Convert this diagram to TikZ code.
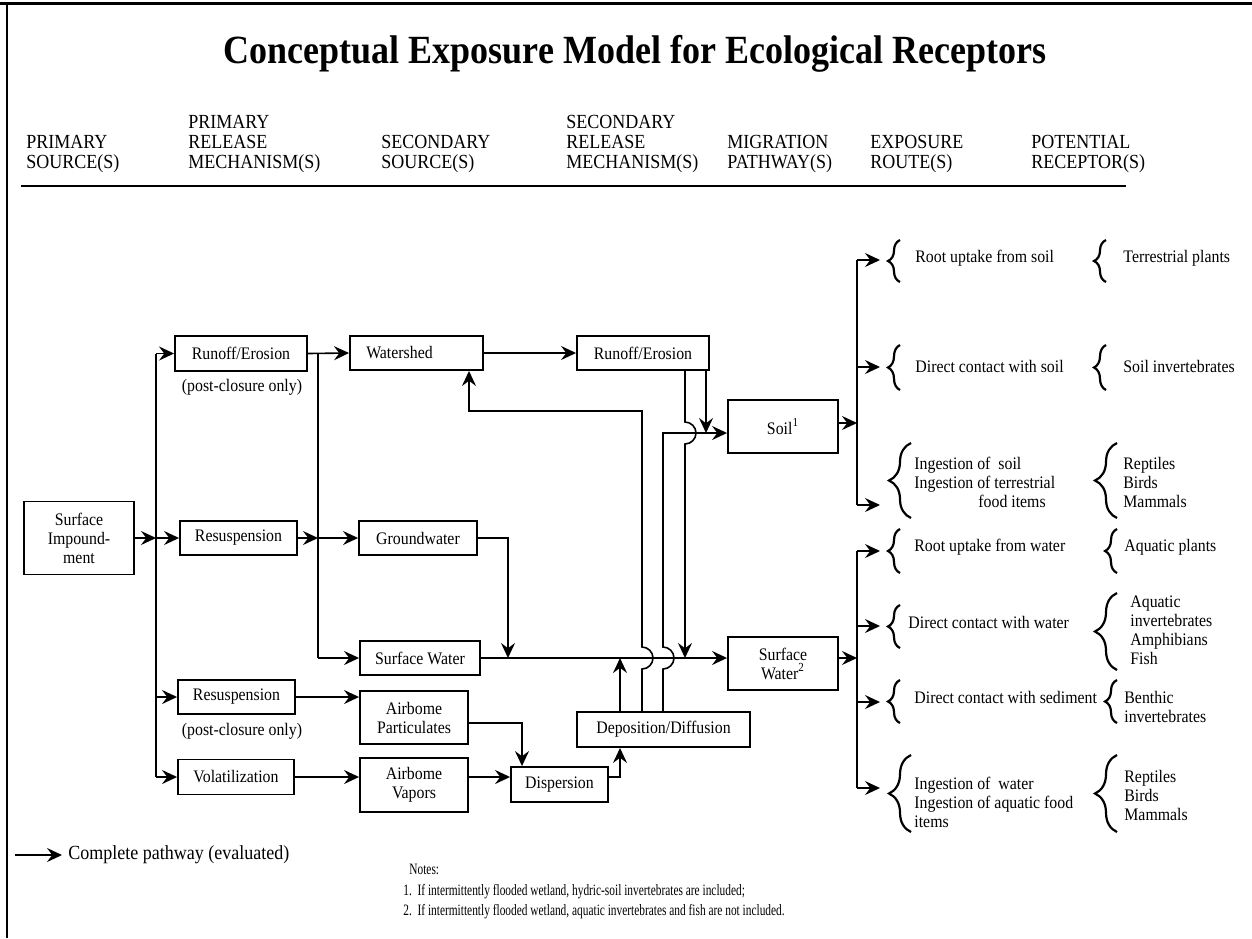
\documentclass[tikz,border=0pt]{standalone}
\usepackage{fontspec}
\setmainfont{Liberation Serif}[FakeStretch=0.9]
\newfontfamily\cemnotesfamily{Liberation Serif}[FakeStretch=0.72]
\usetikzlibrary{arrows.meta,decorations.pathreplacing}

\newcommand\cemtxt{\fontsize{8.8}{9.5}\selectfont}
\newcommand\cemhdr{\fontsize{10}{10}\selectfont}
\newcommand\cemttl{\fontsize{20}{24}\selectfont\bfseries}
\newcommand\cemleg{\fontsize{10}{12}\selectfont}
\newcommand\cemnote{\cemnotesfamily\fontsize{7.9}{10.2}\selectfont}

\begin{document}
\begin{tikzpicture}[x=0.5pt,y=-0.5pt,
  box/.style={draw, line width=0.95pt, inner sep=0pt, align=center, font=\cemtxt},
  conn/.style={line width=0.8pt},
  arr/.style={conn, -{Stealth[length=7.5pt,width=7pt,inset=2.6pt]}},
  hdr/.style={anchor=west, align=left, inner sep=0pt, font=\cemhdr},
  lbl/.style={anchor=west, align=left, inner sep=0pt, font=\cemtxt},
  bsmall/.style={decorate, decoration={brace, amplitude=6pt}, line width=1.1pt},
  blarge/.style={decorate, decoration={brace, amplitude=11pt}, line width=1.1pt}]

\useasboundingbox (0,0) rectangle (1252,938);

% frame and header rule
\draw[line width=1.3pt] (0,3.5) -- (1252,3.5);
\draw[line width=0.7pt] (7,3.5) -- (7,938);
\draw[line width=1pt] (21,186) -- (1126,186);

% title and column headings
\node[font=\cemttl, inner sep=0pt] (title) at (635,54) {Conceptual Exposure Model for Ecological Receptors};
\node[hdr] (h1) at (26,154) {PRIMARY\\SOURCE(S)};
\node[hdr] (h2) at (188,144) {PRIMARY\\RELEASE\\MECHANISM(S)};
\node[hdr] (h3) at (381,154) {SECONDARY\\SOURCE(S)};
\node[hdr] (h4) at (566,144) {SECONDARY\\RELEASE\\MECHANISM(S)};
\node[hdr] (h5) at (727,154) {MIGRATION\\PATHWAY(S)};
\node[hdr] (h6) at (870,154) {EXPOSURE\\ROUTE(S)};
\node[hdr] (h7) at (1031,154) {POTENTIAL\\RECEPTOR(S)};

% sources and release mechanisms
\node[box, minimum width=55pt, minimum height=36.5pt] (imp) at (79,538) {Surface\\Impound-\\ment};
\node[box, minimum width=66pt, minimum height=17.5pt] (ro1) at (241,353.5) {Runoff/Erosion};
\node[box, minimum width=58.5pt, minimum height=17pt] (rs1) at (238.5,538) {Resuspension};
\node[box, minimum width=58.5pt, minimum height=17pt] (rs2) at (236.5,697) {Resuspension};
\node[box, minimum width=58pt, minimum height=17.5pt] (vol) at (236,777) {Volatilization};
\node[lbl, anchor=center] (pc1) at (242,387) {(post-closure only)};
\node[lbl, anchor=center] (pc2) at (242,731) {(post-closure only)};

\node[box, minimum width=66.5pt, minimum height=17pt] (ws) at (416.5,353) {Watershed\hspace*{17pt}};
\node[box, minimum width=59pt, minimum height=17pt] (gw) at (418,538) {Groundwater};
\node[box, minimum width=60pt, minimum height=17pt] (sw) at (420,658) {Surface Water};
\node[box, minimum width=54pt, minimum height=26.5pt] (ap) at (414,717.5) {Airbome\\Particulates};
\node[box, minimum width=54pt, minimum height=27pt] (av) at (414,785) {Airbome\\Vapors};

\node[box, minimum width=66pt, minimum height=17pt] (ro2) at (643,353) {Runoff/Erosion};
\node[box, minimum width=86.5pt, minimum height=17.5pt] (dd) at (663.5,729.5) {Deposition/Diffusion};
\node[box, minimum width=48.5pt, minimum height=17.5pt] (disp) at (559.5,784.5) {Dispersion};

\node[box, minimum width=55pt, minimum height=26.5pt] (soil) at (783,426.5) {Soil\textsuperscript{1}};
\node[box, minimum width=55pt, minimum height=26.5pt] (sw2) at (783,663.5) {Surface\\Water\textsuperscript{2}};

% routing columns and rows
\coordinate (xT1) at (156,0);
\coordinate (xT2) at (318,0);
\coordinate (xGW) at (508,0);
\coordinate (xWS) at (469,0);
\coordinate (xAP) at (522,0);
\coordinate (xDS) at (620,0);
\coordinate (xBK) at (642,0);
\coordinate (xSL) at (663,0);
\coordinate (xRa) at (685,0);
\coordinate (xRb) at (706,0);
\coordinate (xBus) at (857,0);
\coordinate (yAP) at (0,723);
\coordinate (ySoil) at (0,433);
\coordinate (yBack) at (0,411);
\coordinate (ySB) at (0,423);

% primary release
\draw[conn] (xT1 |- ro1.west) -- (xT1 |- vol.west);
\draw[arr] (imp.east) -- (xT1 |- imp.east);
\draw[arr] (xT1 |- ro1.west) -- (ro1.west);
\draw[arr] (xT1 |- rs1.west) -- (rs1.west);
\draw[arr] (xT1 |- rs2.west) -- (rs2.west);
\draw[arr] (xT1 |- vol.west) -- (vol.west);

% secondary sources
\draw[arr] (ro1.east) -- (ws.west);
\draw[conn] (xT2 |- ro1.east) -- (xT2 |- sw.west);
\draw[arr] (xT2 |- sw.west) -- (sw.west);
\draw[arr] (rs1.east) -- (xT2 |- rs1.east);
\draw[arr] (xT2 |- gw.west) -- (gw.west);
\draw[arr] (rs2.east) -- (ap.west |- rs2.east);
\draw[arr] (vol.east) -- (av.west |- vol.east);

% secondary release
\draw[arr] (ws.east) -- (ro2.west);
\draw[arr] (gw.east) -- (xGW |- gw.east) -- (xGW |- sw.east);
\draw[arr] (ap.east |- yAP) -- (xAP |- yAP) -- (xAP |- disp.north);
\draw[arr] (av.east |- vol.east) -- (disp.west |- vol.east);
\draw[arr] (disp.east |- vol.east) -- (xDS |- vol.east) -- (xDS |- dd.south);
\draw[arr] (xDS |- dd.north) -- (xDS |- sw.east);

% migration: surface water line
\draw[arr] (sw.east) -- (sw2.west |- sw.east);

% deposition back to the watershed, hopping the surface water line
\draw[arr] (xBK |- dd.north) -- (642,669) .. controls (648,669) and (653,664) .. (653,658)
  .. controls (653,652) and (648,647) .. (642,647) -- (xBK |- yBack) -- (xWS |- yBack) -- (xWS |- ws.south);

% deposition onto soil, hopping the surface water line
\draw[arr] (xSL |- dd.north) -- (663,669) .. controls (669,669) and (674,664) .. (674,658)
  .. controls (674,652) and (669,647) .. (663,647) -- (xSL |- ySoil) -- (soil.west |- ySoil);

% runoff to surface water, hopping the soil line
\draw[arr] (xRa |- ro2.south) -- (685,422) .. controls (691,422) and (696,427) .. (696,433)
  .. controls (696,439) and (691,444) .. (685,444) -- (xRa |- sw.east);
\draw[arr] (xRb |- ro2.south) -- (xRb |- ySoil);

% exposure routes
\coordinate (e1) at (880,260);
\coordinate (e2) at (880,367);
\coordinate (e3) at (880,505);
\coordinate (e4) at (880,551);
\coordinate (e5) at (880,626);
\coordinate (e6) at (880,702);
\coordinate (e7) at (880,788);

\draw[arr] (soil.east |- ySB) -- (xBus |- ySB);
\draw[conn] (xBus |- e1) -- (xBus |- e3);
\draw[arr] (xBus |- e1) -- (e1);
\draw[arr] (xBus |- e2) -- (e2);
\draw[arr] (xBus |- e3) -- (e3);

\draw[arr] (sw2.east |- sw.east) -- (xBus |- sw.east);
\draw[conn] (xBus |- e4) -- (xBus |- e7);
\draw[arr] (xBus |- e4) -- (e4);
\draw[arr] (xBus |- e5) -- (e5);
\draw[arr] (xBus |- e6) -- (e6);
\draw[arr] (xBus |- e7) -- (e7);

% braces
\draw[bsmall] (900,282) -- (900,240);
\draw[bsmall] (900,390) -- (900,345);
\draw[blarge] (911,518) -- (911,443);
\draw[bsmall] (900,573) -- (900,529);
\draw[bsmall] (900,648) -- (900,605);
\draw[bsmall] (900,723) -- (900,680);
\draw[blarge] (911,832) -- (911,755);

\draw[bsmall] (1106,282) -- (1106,240);
\draw[bsmall] (1106,390) -- (1106,345);
\draw[blarge] (1117,518) -- (1117,443);
\draw[bsmall] (1117,573) -- (1117,529);
\draw[blarge] (1117,670) -- (1117,593);
\draw[bsmall] (1117,723) -- (1117,680);
\draw[blarge] (1117,832) -- (1117,755);

\node[lbl] (t1) at (915,258) {Root uptake from soil};
\node[lbl] (t2) at (915,366) {Direct contact with soil};
\node[lbl] (t3) at (914,482) {Ingestion of\ \ soil\\Ingestion of terrestrial\\\hspace*{32pt}food items};
\node[lbl] (t4) at (914,547) {Root uptake from water};
\node[lbl] (t5) at (908,622) {Direct contact with water};
\node[lbl] (t6) at (914,697) {Direct contact with sediment};
\node[lbl] (t7) at (914,802) {Ingestion of\ \ water\\Ingestion of aquatic food\\items};

% receptors
\node[lbl] (p1) at (1123,258) {Terrestrial plants};
\node[lbl] (p2) at (1123,366) {Soil invertebrates};
\node[lbl] (p3) at (1123,482) {Reptiles\\Birds\\Mammals};
\node[lbl] (p4) at (1124,547) {Aquatic plants};
\node[lbl] (p5) at (1130,630) {Aquatic\\invertebrates\\Amphibians\\Fish};
\node[lbl] (p6) at (1124,707) {Benthic\\invertebrates};
\node[lbl] (p7) at (1124,795) {Reptiles\\Birds\\Mammals};

% legend and notes
\coordinate (lgA) at (15,855);
\node[anchor=west, inner sep=0pt, font=\cemleg] (lgT) at (68,855) {Complete pathway (evaluated)};
\draw[arr] (lgA) -- ([xshift=-3pt]lgT.west);

\node[anchor=north west, align=left, inner sep=0pt, font=\cemnote] (notes) at (403,864)
  {\hspace*{3pt}Notes:\\1.\ \ If intermittently flooded wetland, hydric-soil invertebrates are included;\\2.\ \ If intermittently flooded wetland, aquatic invertebrates and fish are not included.};

\end{tikzpicture}
\end{document}
